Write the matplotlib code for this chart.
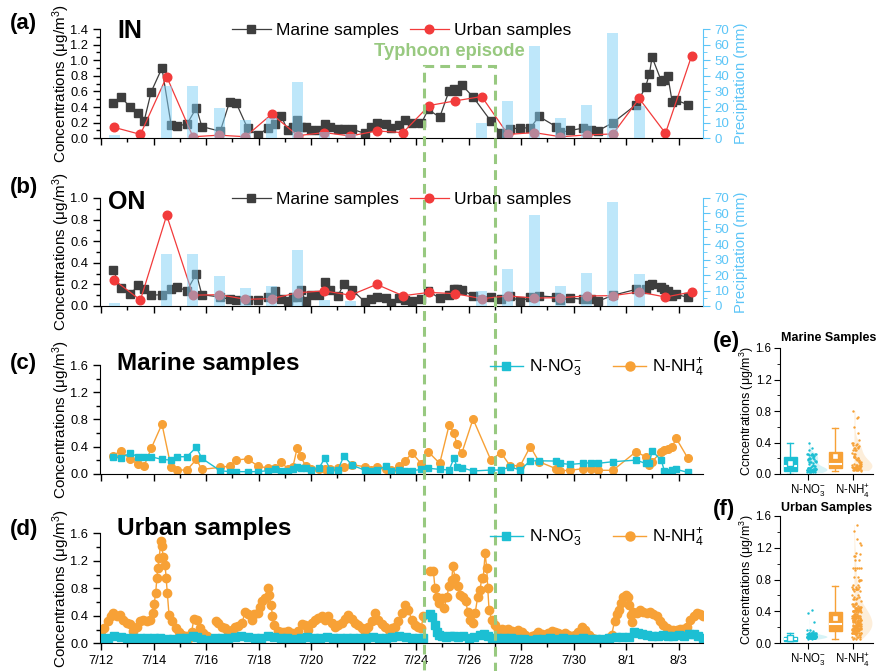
import datetime
import numpy as np
import matplotlib
matplotlib.use('Agg')
import matplotlib.pyplot as plt
from matplotlib.patches import Rectangle
from matplotlib.lines import Line2D
from matplotlib.ticker import MultipleLocator
from matplotlib.transforms import blended_transform_factory

plt.rcParams['font.family'] = ['Liberation Sans', 'DejaVu Sans']
plt.rcParams['mathtext.fontset'] = 'custom'
plt.rcParams['mathtext.rm'] = 'Liberation Sans'
plt.rcParams['mathtext.it'] = 'Liberation Sans:italic'
plt.rcParams['mathtext.bf'] = 'Liberation Sans:bold'

nan = np.nan

# ---------------- data (days after 7/12 00:00) ----------------
start_date = datetime.date(2000, 7, 12)
typhoon_start, typhoon_end = 12.3, 15.0

# marine samples (a, b, c)
mar_t = [0.47, 0.75, 1.1, 1.42, 1.64, 1.91, 2.32, 2.67, 2.89, 3.27,
         3.63, 3.84, 4.54, 4.9, 5.15, 5.58, 5.97, 6.35, 6.64, 6.87,
         7.11, 7.31, 7.47, 7.6, 7.79, 8.0, 8.3, 8.52, 8.74, 9.02,
         9.25, 9.57, 10.04, 10.27, 10.52, 10.84, 11.06, 11.35, 11.56, 11.86,
         12.2, 12.46, 12.9, 13.26, 13.45, 13.55, 13.74, 14.17, 14.85, 15.23,
         15.58, 15.97, 16.35, 16.68, 17.33, 17.49, 17.87, 18.35, 18.66, 18.92,
         19.5, 20.38, 20.74, 20.89, 20.99, 21.34, 21.46, 21.59, 21.76, 21.91,
         22.35]
mar_in = [0.45, 0.535, 0.40, 0.32, 0.22, 0.595, 0.90, 0.17, 0.16, 0.18,
          0.39, 0.15, 0.09, 0.47, 0.45, 0.13, 0.04, 0.13, 0.18, 0.28,
          0.10, 0.14, 0.235, 0.15, 0.14, 0.11, 0.10, 0.18, 0.14, 0.12,
          0.125, 0.115, 0.065, 0.14, 0.19, 0.18, 0.13, 0.17, 0.235, 0.19,
          0.19, 0.37, 0.27, 0.61, 0.63, 0.60, 0.685, 0.53, 0.22, 0.07,
          0.115, 0.137, 0.13, 0.28, 0.15, 0.077, 0.10, 0.13, 0.107, 0.094,
          0.20, 0.43, 0.655, 0.826, 1.04, 0.736, 0.75, 0.80, 0.46, 0.49,
          0.43]
mar_on = [0.33, 0.163, 0.108, 0.19, 0.16, 0.10, 0.105, 0.154, 0.178, 0.14,
          0.30, 0.105, 0.083, 0.062, 0.058, 0.058, 0.058, 0.08, 0.14, 0.062,
          0.046, 0.086, 0.08, 0.148, 0.05, 0.098, 0.098, 0.22, 0.148, 0.092,
          0.206, 0.148, 0.04, 0.062, 0.08, 0.07, 0.028, 0.07, 0.058, 0.05,
          0.062, 0.14, 0.071, 0.105, 0.154, 0.16, 0.145, 0.096, 0.083, 0.068,
          0.09, 0.043, 0.08, 0.093, 0.083, 0.052, 0.074, 0.062, 0.068, 0.043,
          0.099, 0.154, 0.16, 0.198, 0.20, 0.176, 0.16, 0.139, 0.09, 0.108,
          0.08]
mar_no3 = [0.25, 0.235, 0.30, 0.25, 0.24, 0.25, 0.21, 0.20, 0.25, 0.25,
           0.39, 0.226, 0.044, 0.03, 0.03, 0.03, 0.03, 0.044, 0.074, 0.044,
           0.044, 0.064, 0.10, 0.08, 0.08, 0.054, 0.08, 0.226, 0.054, 0.054,
           0.26, 0.123, 0.054, 0.044, 0.054, 0.113, 0.044, 0.054, 0.044, 0.044,
           0.064, 0.08, 0.064, 0.054, 0.235, 0.10, 0.088, 0.04, 0.054, 0.054,
           0.10, 0.054, 0.19, 0.19, 0.186, 0.152, 0.137, 0.152, 0.162, 0.152,
           0.177, 0.20, 0.152, 0.16, 0.334, 0.20, 0.04, 0.03, 0.05, 0.064,
           0.02]
mar_nh4 = [0.265, 0.34, 0.216, 0.137, 0.113, 0.373, 0.73, 0.093, 0.054, 0.054,
           0.21, 0.064, 0.093, 0.113, 0.20, 0.22, 0.113, 0.083, 0.083, 0.167,
           0.074, 0.103, 0.378, 0.255, 0.118, 0.064, 0.074, 0.074, 0.074, 0.083,
           0.103, 0.132, 0.103, 0.059, 0.093, 0.064, 0.054, 0.113, 0.187, 0.30,
           0.147, 0.324, 0.152, 0.716, 0.594, 0.437, 0.30, 0.805, 0.20, 0.31,
           0.118, 0.118, 0.40, 0.177, 0.074, 0.044, 0.05, 0.074, 0.074, 0.05,
           0.05, 0.324, 0.25, 0.128, 0.177, 0.324, 0.35, 0.368, 0.40, 0.52,
           0.23]

# urban daily samples (a, b) and precipitation
day_mid = [d + 0.5 for d in range(23)]
urb_in = [0.14, 0.05, 0.79, 0.02, 0.04, 0.02, 0.31, 0.034, 0.073, 0.03, 0.094, 0.073,
          0.42, 0.48, 0.535, 0.05, 0.073, 0.02, 0.043, 0.056, 0.51, 0.064, 1.06]
urb_on = [0.24, 0.055, 0.84, 0.10, 0.105, 0.062, 0.068, 0.123, 0.14, 0.10, 0.20, 0.095,
          0.126, 0.114, 0.068, 0.093, 0.074, 0.077, 0.093, 0.096, 0.13, 0.083, 0.13]
precip = [2.2, 0, 33.7, 33.7, 19.7, 11.7, 13, 36.3, 4, 3, 0, 0,
          0, 0, 9.7, 23.7, 59.2, 13.2, 21.5, 67.3, 20.6, 0, 0]

# urban high-resolution samples (d)
urb_t_nh4 = [0.0, 0.125, 0.25, 0.375, 0.47, 0.6, 0.72, 0.85, 0.98, 1.1,
             1.23, 1.36, 1.49, 1.61, 1.74, 1.87, 1.96, 2.02, 2.08, 2.13,
             2.16, 2.22, 2.27, 2.31, 2.37, 2.44, 2.48, 2.53, 2.59, 2.72,
             2.84, 2.97, 3.1, 3.23, 3.35, 3.45, 3.54, 3.64, 3.77, 3.9,
             4.03, 4.2, 4.37, 4.47, 4.6, 4.72, 4.85, 4.98, 5.1, 5.23,
             5.36, 5.49, 5.61, 5.74, 5.84, 5.97, 6.06, 6.15, 6.25, 6.35,
             6.4, 6.48, 6.53, 6.6, 6.73, 6.86, 6.98, 7.11, 7.26, 7.39,
             7.52, 7.64, 7.77, 7.9, 8.02, 8.15, 8.28, 8.41, 8.53, 8.66,
             8.79, 8.91, 9.04, 9.17, 9.29, 9.42, 9.55, 9.68, 9.8, 9.93,
             10.06, 10.18, 10.31, 10.44, 10.56, 10.69, 10.82, 10.95, 11.07, 11.2,
             11.33, 11.45, 11.58, 11.71, 11.83, 11.96, 12.09, 12.19, 12.28, 12.4,
             12.53, 12.66, 12.72, 12.79, 12.88, 12.98, 13.08, 13.17, 13.26, 13.36,
             13.4, 13.49, 13.59, 13.68, 13.8, 13.89, 13.97, 14.06, 14.15, 14.25,
             14.35, 14.44, 14.5, 14.56, 14.63, 14.69, 14.73, 14.78, 14.88, 15.01,
             15.14, 15.26, 15.39, 15.52, 15.64, 15.77, 15.9, 16.03, 16.15, 16.28,
             16.41, 16.53, 16.66, 16.79, 16.91, 17.04, 17.17, 17.3, 17.42, 17.55,
             17.68, 17.8, 17.93, 18.06, 18.18, 18.31, 18.44, 18.57, 18.69, 18.82,
             18.95, 19.07, 19.2, 19.33, 19.45, 19.56, 19.64, 19.73, 19.81, 19.9,
             19.99, 20.09, 20.13, 20.18, 20.22, 20.28, 20.41, 20.53, 20.66, 20.79,
             20.91, 21.04, 21.17, 21.3, 21.42, 21.55, 21.68, 21.8, 21.93, 22.06,
             22.18, 22.31, 22.44, 22.57, 22.69, 22.82, 22.92]
urb_nh4 = [0.18, 0.22, 0.32, 0.40, 0.44, 0.40, 0.41, 0.34, 0.29, 0.28,
           0.18, 0.24, 0.32, 0.34, 0.32, 0.34, 0.44, 0.57, 0.73, 0.95,
           1.10, 1.24, 1.49, 1.41, 1.26, 1.14, 0.95, 0.73, 0.41, 0.32,
           0.22, 0.16, 0.12, 0.11, 0.08, 0.17, 0.36, 0.34, 0.22, 0.15,
           0.10, nan, 0.32, 0.29, 0.24, 0.22, 0.17, 0.19, 0.23, 0.25,
           0.29, 0.45, 0.42, 0.34, 0.42, 0.44, 0.53, 0.61, 0.66, 0.80,
           0.70, 0.56, 0.39, 0.27, 0.18, 0.17, 0.16, 0.18, 0.15, 0.12,
           0.18, 0.28, 0.27, 0.19, 0.29, 0.34, 0.37, 0.39, 0.34, 0.40,
           0.29, 0.24, 0.27, 0.29, 0.36, 0.41, 0.36, 0.29, 0.26, 0.22,
           0.17, 0.24, 0.32, 0.44, 0.34, 0.28, 0.24, 0.19, 0.22, 0.24,
           0.32, 0.44, 0.55, 0.49, 0.34, 0.27, 0.24, 0.22, 0.40, nan,
           1.05, 1.05, 0.80, 0.68, 0.58, 0.66, 0.51, 0.68, 0.83, 0.92,
           1.12, 0.95, 0.83, 0.70, 0.68, 0.61, 0.46, 0.34, 0.29, 0.44,
           0.68, 0.78, 0.95, 0.95, 1.31, 1.10, 0.80, 0.49, 0.34, 0.27,
           0.20, 0.21, 0.19, 0.21, 0.18, 0.17, 0.19, 0.16, 0.12, 0.07,
           0.10, 0.12, 0.17, 0.13, 0.12, 0.15, 0.18, 0.16, 0.15, 0.12,
           0.15, 0.12, 0.10, 0.12, 0.17, 0.23, 0.19, 0.12, 0.08, 0.06,
           0.05, 0.05, 0.05, 0.07, 0.12, 0.32, 0.42, 0.49, 0.58, 0.68,
           0.70, 0.68, 0.56, 0.41, 0.31, 0.46, 0.44, 0.49, 0.45, 0.44,
           0.46, 0.42, 0.39, 0.32, 0.27, 0.22, 0.19, 0.19, 0.19, 0.21,
           0.21, 0.24, 0.34, 0.40, 0.44, 0.42, 0.40]
urb_t_no3 = [0.0, 0.25, 0.5, 0.75, 1.0, 1.25, 1.5, 1.75, 2.0, 2.25,
             2.5, 2.75, 3.0, 3.25, 3.5, 3.65, 3.8, 4.03, 4.2, 4.35,
             4.6, 4.85, 5.1, 5.35, 5.6, 5.85, 6.1, 6.35, 6.6, 6.85,
             7.1, 7.35, 7.6, 7.85, 8.1, 8.35, 8.6, 8.85, 9.1, 9.35,
             9.6, 9.85, 10.1, 10.35, 10.6, 10.85, 11.1, 11.35, 11.6, 11.85,
             12.1, 12.28, 12.4, 12.53, 12.62, 12.72, 12.79, 12.88, 13.0, 13.15,
             13.3, 13.45, 13.6, 13.8, 14.0, 14.2, 14.45, 14.6, 14.75, 14.9,
             15.1, 15.35, 15.6, 15.85, 16.1, 16.35, 16.6, 16.85, 17.1, 17.35,
             17.6, 17.85, 18.1, 18.35, 18.6, 18.85, 19.1, 19.35, 19.6, 19.85,
             20.1, 20.3, 20.45, 20.6, 20.8, 21.0, 21.2, 21.4, 21.6, 21.8,
             22.0, 22.2, 22.4, 22.6, 22.75, 22.92]
urb_no3 = [0.07, 0.08, 0.10, 0.09, 0.08, 0.08, 0.07, 0.07, 0.07, 0.07,
           0.06, 0.06, 0.07, 0.08, 0.11, 0.09, 0.06, 0.05, nan, 0.08,
           0.08, 0.08, 0.09, 0.10, 0.09, 0.08, 0.08, 0.11, 0.09, 0.08,
           0.07, 0.06, 0.08, 0.09, 0.08, 0.08, 0.09, 0.07, 0.07, 0.08,
           0.08, 0.07, 0.08, 0.09, 0.08, 0.08, 0.09, 0.10, 0.09, 0.08,
           0.08, 0.07, nan, 0.42, 0.38, 0.27, 0.17, 0.12, 0.10, 0.09,
           0.11, 0.10, 0.09, 0.10, 0.08, 0.09, 0.12, 0.13, 0.11, 0.08,
           0.08, 0.07, 0.07, 0.06, 0.06, 0.05, 0.06, 0.06, 0.07, 0.06,
           0.07, 0.06, 0.06, 0.07, 0.06, 0.06, 0.06, 0.07, 0.09, 0.09,
           0.09, 0.16, 0.15, 0.13, 0.12, 0.10, 0.11, 0.12, 0.10, 0.11,
           0.12, 0.11, 0.13, 0.13, 0.11, 0.08]

# box statistics (e, f): whislo, q1, med, q3, whishi, mean
box_marine = {'no3': [0.0, 0.04, 0.10, 0.21, 0.40, 0.135],
              'nh4': [0.04, 0.07, 0.13, 0.28, 0.59, 0.23]}
box_urban = {'no3': [0.02, 0.03, 0.05, 0.08, 0.13, 0.06],
             'nh4': [0.05, 0.15, 0.24, 0.39, 0.72, 0.32]}

# ---------------- style ----------------
C_MAR = '#3e3e3e'
C_URB = '#f23b3b'
C_NO3 = '#1cbfd3'
C_NH4 = '#f7a136'
C_RAIN = '#7fd1f7'
C_RAIN_AX = '#5cc5f7'
C_TYP = '#98c980'

W, H = 876, 671
fig = plt.figure(figsize=(W / 100, H / 100), dpi=100)


def rect(x0, y_top, x1, y_bot):
    return [x0 / W, 1 - y_bot / H, (x1 - x0) / W, (y_bot - y_top) / H]


ax_a = fig.add_axes(rect(100, 29, 703, 138.3))
ax_b = fig.add_axes(rect(100, 198, 703, 306))
ax_c = fig.add_axes(rect(100, 365, 703, 473.7))
ax_d = fig.add_axes(rect(100, 533.3, 703, 643.3))
ax_e = fig.add_axes(rect(780, 348, 873, 474))
ax_f = fig.add_axes(rect(780, 516, 873, 643))

tick_days = list(range(0, 23, 2))
tick_labels = []
for d in tick_days:
    dt = start_date + datetime.timedelta(days=d)
    tick_labels.append(f'{dt.month}/{dt.day}')


def time_axis(ax, ymax, ystep, yminor, labels=False):
    ax.set_xlim(-0.04, 22.93)
    ax.set_ylim(0, ymax)
    ax.set_xticks(tick_days)
    ax.xaxis.set_minor_locator(MultipleLocator(1))
    ax.yaxis.set_major_locator(MultipleLocator(ystep))
    ax.yaxis.set_minor_locator(MultipleLocator(yminor))
    ax.tick_params(which='major', direction='out', length=5, width=1, labelsize=9.3)
    ax.tick_params(which='minor', direction='out', length=3, width=1)
    ax.spines['top'].set_visible(False)
    ax.spines['right'].set_visible(False)
    ax.yaxis.set_major_formatter(plt.FuncFormatter(lambda v, p: f'{v:.1f}'))
    if labels:
        ax.set_xticklabels(tick_labels)
    else:
        ax.tick_params(labelbottom=False)
    ax.set_ylabel('Concentrations (μg/m$^3$)', fontsize=11, labelpad=-1)


def rain_axis(ax):
    ax2 = ax.twinx()
    ax2.bar(day_mid, precip, width=0.42, color=C_RAIN, alpha=0.5, lw=0)
    ax2.set_ylim(0, 70)
    ax2.yaxis.set_major_locator(MultipleLocator(10))
    ax2.yaxis.set_minor_locator(MultipleLocator(5))
    for s in ['top', 'left', 'bottom']:
        ax2.spines[s].set_visible(False)
    ax2.spines['right'].set_color(C_RAIN_AX)
    ax2.tick_params(axis='y', which='both', direction='out', colors=C_RAIN_AX,
                    labelcolor=C_RAIN_AX, labelsize=9.5)
    ax2.tick_params(axis='y', which='major', length=5)
    ax2.tick_params(axis='y', which='minor', length=3)
    ax2.set_ylabel('Precipitation (mm)', color=C_RAIN_AX, fontsize=10.7, labelpad=3)
    return ax2


# (a) IN
ax_a.plot(mar_t, mar_in, color=C_MAR, marker='s', ms=5.5, lw=0.9)
ax_a.plot(day_mid, urb_in, color=C_URB, marker='o', ms=6.2, lw=0.9)
time_axis(ax_a, 1.4, 0.2, 0.1)
rain_axis(ax_a)

# (b) ON
ax_b.plot(mar_t, mar_on, color=C_MAR, marker='s', ms=5.5, lw=0.9)
ax_b.plot(day_mid, urb_on, color=C_URB, marker='o', ms=6.2, lw=0.9)
time_axis(ax_b, 1.0, 0.2, 0.1)
rain_axis(ax_b)

# (c) marine NO3 / NH4
ax_c.plot(mar_t, mar_nh4, color=C_NH4, marker='o', ms=5.5, lw=1)
ax_c.plot(mar_t, mar_no3, color=C_NO3, marker='s', ms=4.8, lw=1)
time_axis(ax_c, 1.6, 0.4, 0.2)

# (d) urban NO3 / NH4
ax_d.plot(urb_t_nh4, urb_nh4, color=C_NH4, marker='o', ms=6, lw=1)
ax_d.plot(urb_t_no3, urb_no3, color=C_NO3, marker='s', ms=5.6, lw=1)
time_axis(ax_d, 1.6, 0.4, 0.2, labels=True)

# legends
h_mar = Line2D([], [], color=C_MAR, marker='s', ms=5.5, lw=0.9)
h_urb = Line2D([], [], color=C_URB, marker='o', ms=6.2, lw=0.9)
h_no3 = Line2D([], [], color=C_NO3, marker='s', ms=5.5, lw=1)
h_nh4 = Line2D([], [], color=C_NH4, marker='o', ms=6.5, lw=1)
for yc in [30.7, 199.3]:
    fig.legend([h_mar, h_urb], ['Marine samples', 'Urban samples'], loc='center',
               bbox_to_anchor=(401.5 / W, 1 - yc / H), ncol=2, frameon=False,
               fontsize=12.5, handlelength=2.25, handletextpad=0.3,
               columnspacing=0.65, borderpad=0, borderaxespad=0)
for yc in [367.7, 537.7]:
    fig.legend([h_no3, h_nh4], ['N-NO$_3^{-}$', 'N-NH$_4^{+}$'], loc='center',
               bbox_to_anchor=(597 / W, 1 - yc / H), ncol=2, frameon=False,
               fontsize=12.5, handlelength=1.9, handletextpad=0.35,
               columnspacing=1.8, borderpad=0, borderaxespad=0)

# panel texts
for lab, yc in [('(a)', 23), ('(b)', 188), ('(c)', 363), ('(d)', 530)]:
    fig.text(10 / W, 1 - yc / H, lab, fontsize=16, fontweight='bold', va='center')
fig.text(117 / W, 1 - 31 / H, 'IN', fontsize=18, fontweight='bold', va='center')
fig.text(108 / W, 1 - 202 / H, 'ON', fontsize=18, fontweight='bold', va='center')
fig.text(117 / W, 1 - 363 / H, 'Marine samples', fontsize=17.5, fontweight='bold', va='center')
fig.text(117 / W, 1 - 529 / H, 'Urban samples', fontsize=17.5, fontweight='bold', va='center')
fig.text(713 / W, 1 - 342 / H, '(e)', fontsize=16, fontweight='bold', va='center')
fig.text(713 / W, 1 - 509 / H, '(f)', fontsize=16, fontweight='bold', va='center')

# typhoon episode box
tr = blended_transform_factory(ax_d.transData, fig.transFigure)
top = 1 - 66 / H
fig.add_artist(Rectangle((typhoon_start, -0.02), typhoon_end - typhoon_start, top + 0.02,
                         transform=tr, fill=False, ec=C_TYP, lw=2.2,
                         ls=(0, (3.2, 2.0)), clip_on=False))
fig.text(449.5 / W, 1 - 52 / H, 'Typhoon episode', color=C_TYP, fontsize=13.2,
         fontweight='bold', ha='center', va='center')


# (e), (f) box + scatter + half violin
def dist_panel(ax, no3, nh4, stats, title, ytitle, ylab):
    for cat, vals, key, col in [(1, no3, 'no3', C_NO3), (2, nh4, 'nh4', C_NH4)]:
        v = np.asarray(vals, float)
        v = v[~np.isnan(v)]
        grid = np.linspace(v.min(), v.max(), 150)
        bw = 1.06 * v.std() * len(v) ** -0.2
        dens = np.exp(-0.5 * ((grid[:, None] - v[None, :]) / bw) ** 2).sum(axis=1)
        dens = dens / dens.max() * 0.4
        ax.fill_betweenx(grid, cat + 0.02, cat + 0.02 + dens, color=col, alpha=0.18, lw=0)
        jit = (np.arange(len(v)) * 0.618) % 1.0
        ax.scatter(cat - 0.02 + 0.2 * jit, v, s=3, color=col, lw=0)
        lo, q1, med, q3, hi, mean = stats[key]
        ax.bxp([dict(whislo=lo, q1=q1, med=med, q3=q3, whishi=hi, mean=mean, fliers=[])],
               positions=[cat - 0.39], widths=0.27, patch_artist=True, showmeans=True,
               showfliers=False, manage_ticks=False,
               boxprops=dict(facecolor=col, edgecolor=col),
               whiskerprops=dict(color=col, lw=1), capprops=dict(color=col, lw=1),
               medianprops=dict(color='white', lw=1.5),
               meanprops=dict(marker='s', markerfacecolor='white', markeredgecolor=col,
                              markersize=5))
    ax.set_xlim(0.378, 2.444)
    ax.set_ylim(0, 1.6)
    ax.set_xticks([1, 2])
    ax.set_xticklabels(['N-NO$_3^{-}$', 'N-NH$_4^{+}$'], fontsize=9.3)
    ax.yaxis.set_major_locator(MultipleLocator(0.4))
    ax.yaxis.set_minor_locator(MultipleLocator(0.2))
    ax.yaxis.set_major_formatter(plt.FuncFormatter(lambda v, p: f'{v:.1f}'))
    ax.tick_params(which='major', direction='out', length=4, labelsize=8.3, pad=2)
    ax.tick_params(which='minor', direction='out', length=2)
    ax.spines['top'].set_visible(False)
    ax.spines['right'].set_visible(False)
    ax.set_ylabel(ylab, fontsize=9, labelpad=0)
    fig.text(781 / W, 1 - ytitle / H, title, fontsize=9, fontweight='bold', va='center')


dist_panel(ax_e, mar_no3, mar_nh4, box_marine, 'Marine Samples', 338,
           'Ccncentrations (μg/m$^3$)')
dist_panel(ax_f, urb_no3, urb_nh4, box_urban, 'Urban Samples', 508,
           'Concentrations (μg/m$^3$)')

fig.savefig('out.png', dpi=100)
